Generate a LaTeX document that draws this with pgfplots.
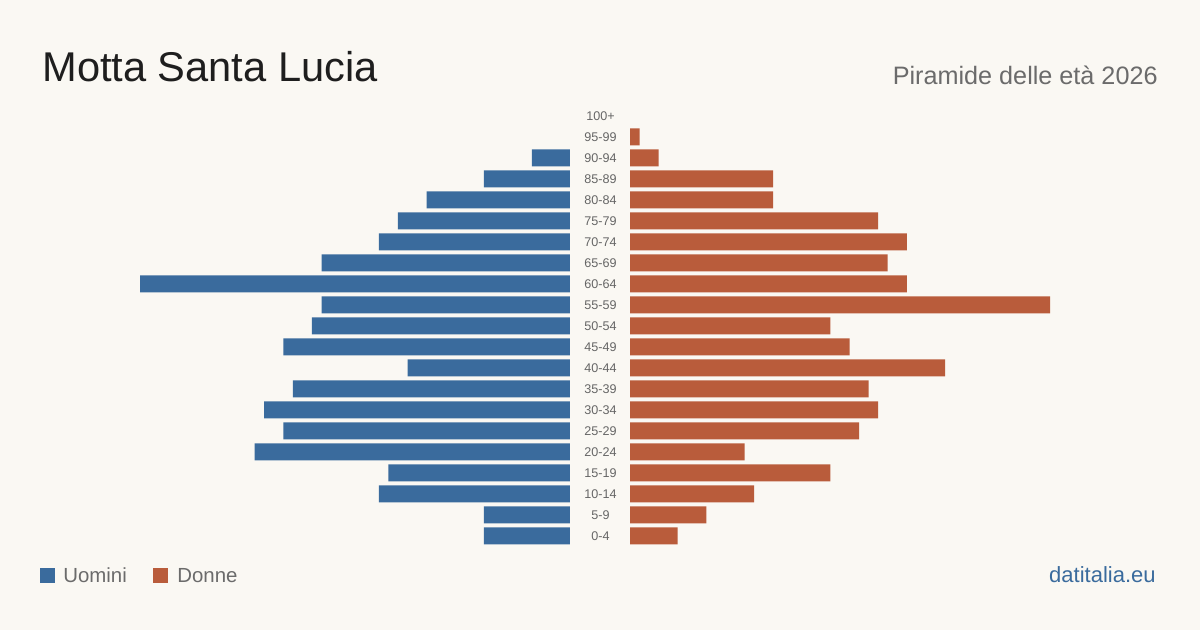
\documentclass[border=0pt]{standalone}
\usepackage{pgfplots}
\pgfplotsset{compat=1.18}
\usepackage{pgfplotstable}
\usepackage{fontspec}
\setmainfont{Liberation Sans}

\definecolor{bgcol}{HTML}{FAF8F3}
\definecolor{mencol}{HTML}{3A6B9D}
\definecolor{womencol}{HTML}{B95C3B}
\definecolor{titlecol}{HTML}{1E1E1E}
\definecolor{subcol}{HTML}{6B6B6B}
\definecolor{labcol}{HTML}{666666}

% age classes: 0 = 0-4 ... 20 = 100+
\pgfplotstableread{
idx men women
0  9  5
1  9  8
2  20 13
3  19 21
4  33 12
5  30 24
6  32 26
7  29 25
8  17 33
9  30 23
10 27 21
11 26 44
12 45 29
13 26 27
14 20 29
15 18 26
16 15 15
17 9  15
18 4  3
19 0  1
20 0  0
}\pyramid

\begin{document}
\begin{tikzpicture}
\fill[bgcol] (0pt,0pt) rectangle (600pt,315pt);

\node[anchor=base west, inner sep=0, text=titlecol, font=\fontsize{20.8}{25}\selectfont] at (21pt,274pt) {Motta Santa Lucia};
\node[anchor=base east, inner sep=0, text=subcol, font=\fontsize{12.6}{15}\selectfont] at (579pt,272.5pt) {Piramide delle età 2026};

\pgfplotsset{
  pyr/.style={
    xbar, scale only axis, height=220.5pt,
    ymin=-0.5, ymax=20.5, bar width=8.5pt,
    axis line style={draw=none}, tick style={draw=none},
    xtick=\empty, enlargelimits=false, clip=false,
  }
}

% men, drawn leftwards (empty classes skipped)
\begin{axis}[pyr, at={(70pt,41.75pt)}, anchor=south west, width=215pt,
  xmin=-45, xmax=0, ytick=\empty]
\addplot[fill=mencol, draw=none, restrict x to domain=-100:-0.5]
  table[x expr=-\thisrow{men}, y=idx] {\pyramid};
\end{axis}

% women, drawn rightwards, with the age classes in the middle
\begin{axis}[pyr, at={(315pt,41.75pt)}, anchor=south west, width=210pt,
  xmin=0, xmax=44,
  ytick={0,...,20},
  yticklabels={0-4,5-9,10-14,15-19,20-24,25-29,30-34,35-39,40-44,45-49,50-54,55-59,60-64,65-69,70-74,75-79,80-84,85-89,90-94,95-99,100+},
  yticklabel style={anchor=center, xshift=-10.5pt, text=labcol, font=\fontsize{6.3}{7}\selectfont}]
\addplot[fill=womencol, draw=none, restrict x to domain=0.5:100]
  table[x=women, y=idx] {\pyramid};
\end{axis}

% legend and source
\fill[mencol] (20pt,23.5pt) rectangle (27.5pt,31pt);
\node[anchor=base west, inner sep=0, text=subcol, font=\fontsize{10.2}{12}\selectfont] at (31.5pt,23.5pt) {Uomini};
\fill[womencol] (76.5pt,23.5pt) rectangle (84pt,31pt);
\node[anchor=base west, inner sep=0, text=subcol, font=\fontsize{10.2}{12}\selectfont] at (88.5pt,23.5pt) {Donne};
\node[anchor=base east, inner sep=0, text=mencol, font=\fontsize{11}{13}\selectfont] at (578pt,23.5pt) {datitalia.eu};
\end{tikzpicture}
\end{document}
